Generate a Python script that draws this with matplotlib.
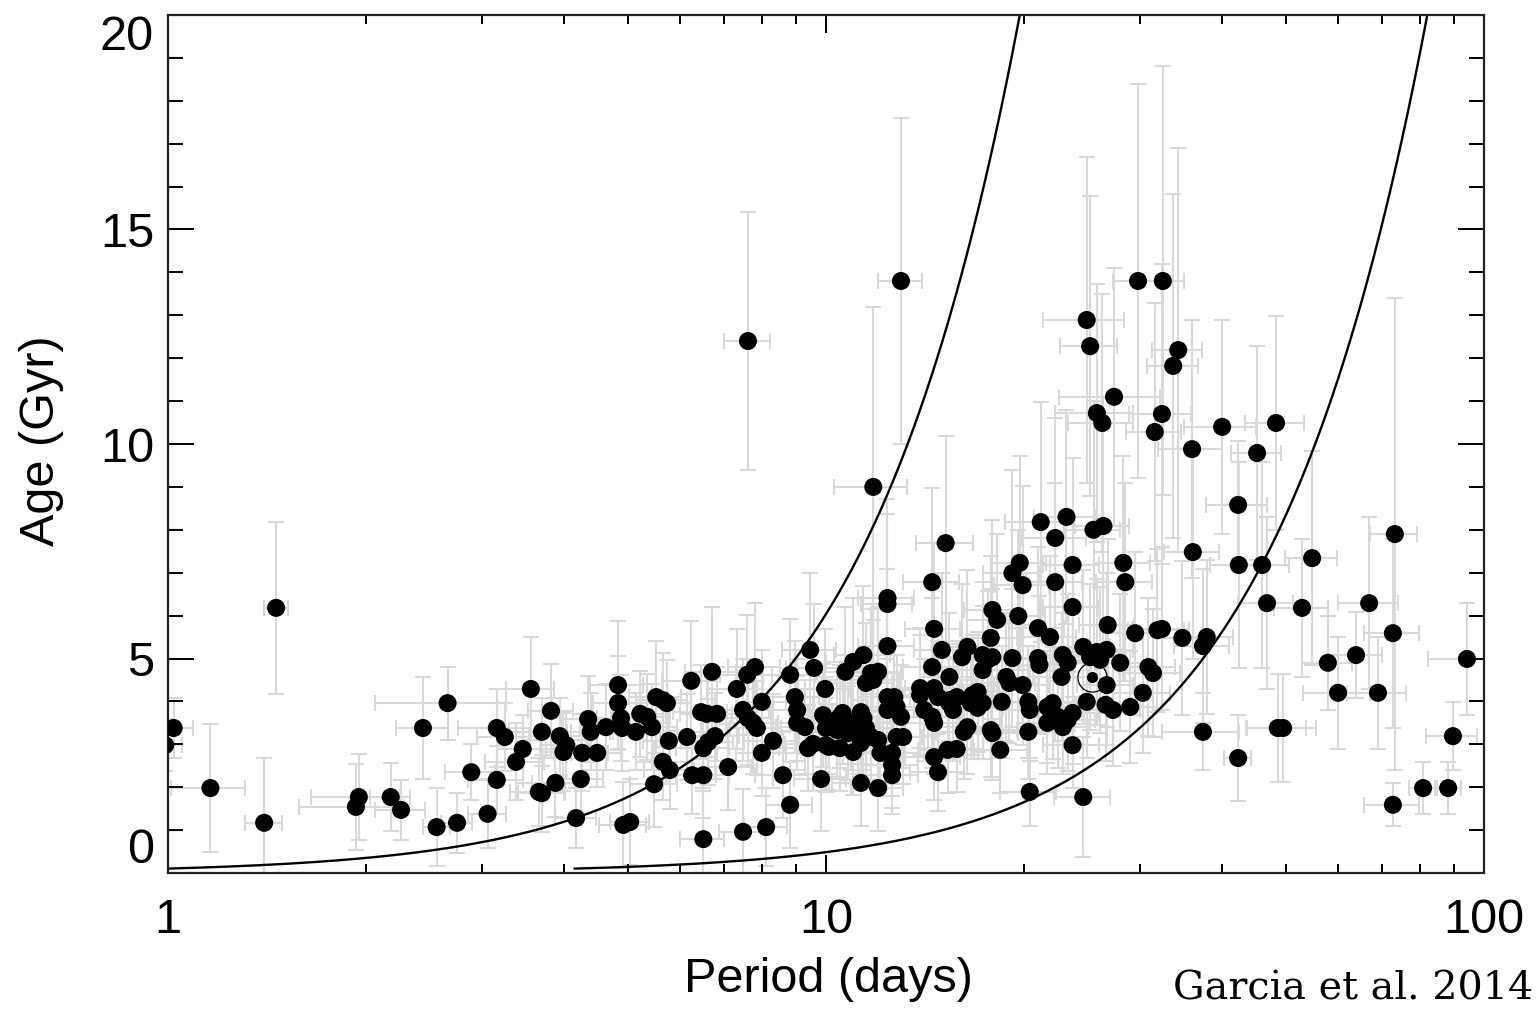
import numpy as np
import matplotlib
matplotlib.use("Agg")
import matplotlib.pyplot as plt
from matplotlib.ticker import FixedLocator, FixedFormatter, LogLocator, NullFormatter, MultipleLocator

plt.rcParams['font.family'] = ['Liberation Sans', 'DejaVu Sans']

# ---- data (rotation period in days, age in Gyr, symmetric errors) ----
period = [1.02, 0.99, 1.16, 1.46, 1.40, 1.93, 1.95, 2.18, 2.26, 2.44,
          2.66, 2.56, 2.75, 2.89, 3.06, 3.16, 3.16, 3.25, 3.38, 3.46,
          3.56, 3.66, 3.70, 3.70, 3.82, 3.88, 3.94, 4.03, 3.99, 4.17,
          4.26, 4.24, 4.35, 4.39, 4.49, 4.63, 4.83, 4.83, 4.88, 4.90,
          4.92, 5.04, 5.14, 5.22, 5.35, 5.44, 5.52, 5.65, 5.73, 5.48,
          5.65, 5.79, 5.77, 6.15, 6.24, 6.26, 6.51, 6.46, 6.59, 6.83,
          6.51, 6.51, 6.62, 6.78, 6.71, 7.10, 7.32, 7.48, 7.48, 7.61,
          7.75, 7.85, 7.59, 7.80, 7.99, 7.99, 8.11, 8.31, 8.60, 8.82,
          8.82, 8.97, 9.04, 9.04, 9.29, 9.46, 9.59, 9.39, 9.56, 9.83,
          9.97, 9.90, 10.0, 10.0, 14.5, 15.2, 12.4, 12.4, 12.4, 14.6,
          11.4, 11.0, 10.7, 11.7, 12.0, 11.5, 11.8, 12.4, 12.7, 12.8,
          13.0, 12.4, 10.5, 10.6, 10.9, 11.3, 11.4, 10.1, 10.4, 10.8,
          11.2, 11.5, 11.7, 12.0, 10.1, 10.5, 11.0, 11.3, 12.1, 12.6,
          12.6, 12.6, 12.8, 13.1, 11.3, 12.0, 15.0, 14.5, 15.4, 16.1,
          16.4, 13.9, 13.9, 14.6, 14.8, 15.4, 15.8, 14.1, 14.5, 14.6,
          15.4, 15.6, 14.6, 14.8, 15.3, 15.8, 16.2, 16.4, 16.6, 17.0,
          17.3, 16.7, 17.0, 17.8, 17.9, 17.3, 17.6, 17.9, 17.3, 17.8,
          17.9, 18.2, 18.4, 18.5, 18.8, 19.0, 19.2, 19.6, 19.9, 19.2,
          19.7, 19.9, 20.3, 20.4, 20.3, 20.4, 21.0, 21.9, 21.0, 21.1,
          21.7, 22.1, 21.7, 22.5, 22.9, 23.3, 23.7, 22.3, 22.9, 22.8,
          23.3, 23.7, 23.7, 24.6, 25.2, 25.8, 26.7, 26.1, 26.7, 24.9,
          26.6, 27.3, 29.0, 23.7, 24.6, 26.8, 28.0, 29.5, 28.3, 28.5,
          30.3, 30.9, 31.4, 31.9, 42.4, 46.0, 54.8, 32.4, 34.8, 37.9,
          37.4, 46.8, 52.9, 66.9, 72.7, 57.9, 63.9, 60.0, 69.0, 94.2,
          37.4, 42.3, 48.6, 49.5, 89.7, 72.7, 80.8, 88.2, 13.0, 7.61,
          29.8, 32.5, 24.9, 25.2, 34.3, 33.7, 27.4, 25.8, 26.3, 32.4,
          31.6, 40.0, 48.3, 36.0, 45.2, 11.8, 42.3, 21.2, 23.2, 22.3,
          25.5, 26.4, 73.2, 36.1]

age = [3.38, 2.98, 1.98, 6.18, 1.17, 1.54, 1.77, 1.77, 1.47, 3.38,
       3.96, 1.07, 1.17, 2.35, 1.38, 3.38, 2.17, 3.17, 2.59, 2.89,
       4.29, 1.89, 1.86, 3.29, 3.78, 2.10, 3.19, 2.98, 2.82, 1.28,
       2.80, 2.19, 3.59, 3.29, 2.80, 3.40, 4.38, 3.96, 3.61, 3.38,
       1.12, 1.19, 3.29, 3.71, 3.64, 3.40, 4.10, 4.03, 3.96, 2.07,
       2.59, 2.40, 3.08, 3.17, 4.48, 2.28, 2.28, 3.75, 3.71, 3.71,
       0.79, 2.91, 3.05, 3.19, 4.69, 2.47, 4.29, 0.96, 3.80, 3.61,
       3.50, 3.38, 4.62, 4.80, 3.99, 2.80, 1.07, 3.08, 2.28, 4.62,
       1.59, 4.10, 3.80, 3.50, 3.40, 5.20, 4.78, 2.91, 3.01, 2.19,
       4.29, 3.68, 3.38, 2.98, 6.78, 7.69, 6.41, 6.27, 5.29, 5.69,
       5.08, 4.92, 4.69, 4.66, 4.69, 4.43, 4.50, 4.10, 4.10, 3.87,
       3.64, 3.80, 3.64, 3.73, 3.50, 3.75, 3.61, 3.40, 3.33, 3.26,
       3.40, 3.38, 3.17, 3.10, 2.94, 2.91, 2.82, 3.03, 2.80, 2.80,
       2.52, 2.28, 3.17, 3.17, 2.10, 1.98, 5.20, 4.80, 4.57, 5.03,
       5.27, 4.31, 4.15, 4.31, 4.10, 4.03, 4.10, 3.80, 3.64, 3.50,
       3.96, 3.80, 2.70, 2.35, 2.87, 2.89, 3.29, 3.40, 3.96, 3.85,
       3.96, 4.15, 4.22, 3.33, 3.26, 4.73, 4.97, 5.03, 5.08, 5.48,
       6.13, 5.90, 2.87, 3.99, 4.57, 4.43, 5.01, 5.99, 4.38, 6.99,
       7.23, 6.71, 3.99, 3.80, 3.29, 1.89, 5.71, 5.50, 5.01, 4.85,
       3.87, 3.96, 3.50, 3.64, 3.40, 3.57, 3.73, 6.78, 5.08, 4.57,
       4.90, 7.18, 6.20, 5.27, 5.03, 5.15, 5.20, 4.97, 4.38, 3.99,
       3.92, 3.80, 3.87, 2.98, 1.77, 5.78, 4.90, 5.59, 7.23, 6.78,
       4.20, 4.80, 4.66, 5.66, 7.18, 7.18, 7.34, 5.69, 5.48, 5.50,
       5.29, 6.29, 6.18, 6.29, 5.59, 4.90, 5.08, 4.20, 4.20, 4.99,
       3.29, 2.68, 3.38, 3.38, 3.19, 1.59, 1.98, 1.98, 13.80, 12.40,
       13.80, 13.80, 12.89, 12.28, 12.19, 11.82, 11.10, 10.72, 10.49, 10.70,
       10.28, 10.40, 10.49, 9.88, 9.79, 9.00, 8.58, 8.18, 8.30, 7.81,
       8.00, 8.09, 7.90, 7.48]

period_err = [0.07, 0.06, 0.15, 0.06, 0.09, 0.35, 0.30, 0.15, 0.20, 0.22,
              0.60, 0.12, 0.15, 0.25, 0.20, 0.40, 0.30, 0.30, 0.35, 0.30,
              0.30, 0.35, 0.30, 0.40, 0.30, 0.30, 0.40, 0.35, 0.30, 0.30,
              0.40, 0.35, 0.40, 0.35, 0.40, 0.40, 0.45, 0.40, 0.40, 0.45,
              0.40, 0.35, 0.45, 0.50, 0.45, 0.50, 0.50, 0.50, 0.50, 0.45,
              0.50, 0.50, 0.50, 0.55, 0.60, 0.55, 0.60, 0.60, 0.60, 0.60,
              0.50, 0.60, 0.60, 0.60, 0.60, 0.60, 0.70, 0.60, 0.70, 0.70,
              0.70, 0.70, 0.70, 0.70, 0.70, 0.70, 0.60, 0.80, 0.80, 0.80,
              0.70, 0.80, 0.80, 0.80, 0.90, 0.90, 0.90, 0.90, 0.90, 0.90,
              0.90, 0.90, 1.00, 1.00, 1.40, 1.50, 1.20, 1.10, 1.20, 1.40,
              1.10, 1.00, 1.00, 1.10, 1.10, 1.10, 1.10, 1.20, 1.20, 1.20,
              1.20, 1.20, 1.00, 1.00, 1.00, 1.10, 1.10, 1.00, 1.00, 1.00,
              1.00, 1.10, 1.10, 1.10, 1.00, 1.00, 1.00, 1.10, 1.10, 1.20,
              1.20, 1.20, 1.20, 1.20, 1.10, 1.10, 1.40, 1.40, 1.50, 1.50,
              1.60, 1.30, 1.30, 1.40, 1.40, 1.50, 1.50, 1.30, 1.40, 1.40,
              1.50, 1.50, 1.40, 1.40, 1.50, 1.50, 1.50, 1.60, 1.60, 1.60,
              1.70, 1.60, 1.60, 1.70, 1.70, 1.70, 1.70, 1.70, 1.70, 1.70,
              1.70, 1.80, 1.80, 1.80, 1.80, 1.80, 1.90, 1.90, 1.90, 1.90,
              1.90, 1.90, 2.00, 2.00, 2.00, 2.00, 2.00, 2.10, 2.00, 2.00,
              2.10, 2.10, 2.10, 2.20, 2.20, 2.30, 2.30, 2.20, 2.20, 2.20,
              2.30, 2.30, 2.30, 2.40, 2.50, 2.50, 2.60, 2.50, 2.60, 2.40,
              2.60, 2.70, 2.80, 2.30, 2.40, 2.60, 2.70, 2.90, 2.80, 2.80,
              3.00, 3.00, 3.10, 3.10, 4.00, 4.50, 5.00, 3.20, 3.40, 3.70,
              3.60, 4.50, 5.00, 7.00, 7.00, 5.00, 6.00, 7.00, 7.00, 12.0,
              5.00, 2.00, 5.00, 6.00, 8.00, 7.00, 4.00, 4.00, 1.00, 0.60,
              2.50, 2.50, 3.50, 2.50, 3.00, 3.00, 4.80, 3.50, 3.00, 3.50,
              3.00, 5.00, 5.00, 4.00, 4.00, 1.50, 4.50, 2.50, 2.50, 2.50,
              2.50, 2.50, 6.00, 3.50]

age_err = [0.7, 0.6, 1.5, 2.0, 1.5, 1.0, 1.0, 0.8, 0.7, 1.2,
           0.85, 0.9, 0.7, 0.65, 0.8, 0.9, 0.8, 0.8, 0.9, 0.8,
           1.2, 0.8, 0.9, 0.8, 1.1, 0.8, 0.9, 0.8, 0.9, 0.7,
           0.9, 0.9, 1.0, 0.9, 0.8, 1.0, 1.5, 1.1, 1.0, 1.0,
           1.0, 1.0, 0.9, 1.0, 1.0, 1.0, 1.3, 1.1, 1.0, 1.0,
           0.9, 0.9, 1.0, 1.0, 1.4, 0.9, 1.0, 1.1, 1.0, 1.1,
           1.2, 1.0, 1.0, 1.0, 1.5, 1.0, 1.4, 1.0, 1.2, 1.1,
           1.2, 1.1, 1.4, 1.5, 1.2, 1.0, 0.9, 1.1, 1.0, 1.3,
           1.0, 1.3, 1.2, 1.1, 1.1, 1.8, 1.5, 1.0, 1.1, 1.2,
           1.4, 1.2, 1.2, 1.1, 2.2, 2.5, 2.3, 2.1, 1.8, 2.0,
           1.6, 1.5, 1.5, 1.5, 1.5, 1.4, 1.4, 1.3, 1.3, 1.2,
           1.2, 1.2, 1.2, 1.2, 1.1, 1.2, 1.2, 1.1, 1.1, 1.1,
           1.1, 1.1, 1.0, 1.0, 1.0, 1.0, 1.0, 1.0, 1.0, 1.0,
           1.0, 0.9, 1.1, 1.1, 1.0, 1.0, 1.8, 1.6, 1.5, 1.7,
           1.8, 1.4, 1.4, 1.4, 1.3, 1.3, 1.3, 1.2, 1.2, 1.2,
           1.3, 1.2, 1.0, 0.9, 1.0, 1.0, 1.1, 1.1, 1.3, 1.2,
           1.3, 1.4, 1.4, 1.1, 1.1, 1.5, 1.6, 1.6, 1.7, 1.9,
           2.1, 2.0, 1.0, 1.3, 1.5, 1.4, 1.6, 2.0, 1.4, 2.4,
           2.5, 2.3, 1.3, 1.2, 1.1, 0.8, 1.9, 1.9, 1.7, 1.6,
           1.3, 1.3, 1.2, 1.2, 1.1, 1.2, 1.2, 2.3, 1.7, 1.5,
           1.6, 2.5, 2.1, 1.8, 1.7, 1.7, 1.8, 1.7, 1.4, 1.3,
           1.3, 1.3, 1.3, 1.0, 1.4, 2.0, 1.6, 1.9, 2.5, 2.3,
           1.4, 1.6, 1.5, 1.9, 2.4, 2.4, 2.5, 1.9, 1.8, 1.8,
           1.8, 2.0, 1.6, 2.0, 2.2, 1.1, 1.0, 1.3, 1.3, 1.3,
           0.9, 1.0, 1.25, 1.25, 0.8, 0.5, 0.6, 0.6, 3.8, 3.0,
           4.6, 5.0, 3.8, 3.5, 4.7, 4.0, 3.0, 3.0, 3.0, 3.5,
           3.0, 2.5, 2.5, 3.0, 2.5, 4.2, 1.5, 2.8, 2.5, 2.8,
           3.0, 3.0, 5.5, 2.5]

# the Sun
sun_period = 25.4
sun_age = 4.57

# gyrochronology curves: age = 20 Gyr * (P / P20)^(1/n)
gyro_n = 0.566
curve_p_start = [1.0, 4.15]
curve_p_at_20gyr = [19.7, 82.0]

x_major = [1, 10, 100]
x_major_labels = ['1', '10', '100']
y_major = [0, 5, 10, 15, 20]

# ---- figure ----
fig = plt.figure(figsize=(15.38, 10.10), dpi=100)
ax = fig.add_axes([168 / 1538, 1 - 873 / 1010, (1484 - 168) / 1538, (873 - 15) / 1010])

ax.errorbar(period, age, xerr=period_err, yerr=age_err, fmt='none',
            ecolor='#d9d9d9', elinewidth=1.5, capsize=5.5, capthick=1.5, zorder=1)

for p0, p20 in zip(curve_p_start, curve_p_at_20gyr):
    pp = np.geomspace(p0, p20, 300)
    ax.plot(pp, 20.0 * (pp / p20) ** (1.0 / gyro_n), color='black', lw=1.7, zorder=2)

ax.scatter(period, age, s=13 ** 2, color='black', edgecolors='none', zorder=3)

ax.plot([sun_period], [sun_age], 'o', ms=21, mfc='none', mec='black', mew=0.9, zorder=4)
ax.plot([sun_period], [sun_age], 'o', ms=7, color='black', zorder=4)

ax.set_xscale('log')
ax.set_xlim(1, 100)
ax.set_ylim(0, 20)

ax.xaxis.set_major_locator(FixedLocator(x_major))
ax.xaxis.set_major_formatter(FixedFormatter(x_major_labels))
ax.xaxis.set_minor_locator(LogLocator(base=10, subs=range(2, 10), numticks=20))
ax.xaxis.set_minor_formatter(NullFormatter())
ax.yaxis.set_major_locator(FixedLocator(y_major))
ax.yaxis.set_minor_locator(MultipleLocator(1))

ax.tick_params(axis='x', which='major', direction='in', length=13, width=1.4,
               top=True, bottom=True, pad=18, labelsize=35, colors='black')
ax.tick_params(axis='x', which='minor', direction='in', length=6.5, width=1.4,
               top=True, bottom=True)
ax.tick_params(axis='y', which='major', direction='in', length=19, width=1.4,
               left=True, right=True, pad=10, labelsize=35)
ax.tick_params(axis='y', which='minor', direction='in', length=11, width=1.4,
               left=True, right=True)

for sp in ax.spines.values():
    sp.set_linewidth(1.6)
    sp.set_color('#222222')

ylabels = ax.get_yticklabels()
ylabels[0].set_verticalalignment('bottom')
ylabels[-1].set_verticalalignment('top')

fig.text(828 / 1538, 1 - 980 / 1010, 'Period (days)', fontsize=35, ha='center', va='center')
fig.text(42 / 1538, 1 - 441 / 1010, 'Age (Gyr)', fontsize=35, rotation=90, ha='center', va='center')
fig.text(1173 / 1538, 1 - 1007 / 1010, 'Garcia et al. 2014', fontsize=28.5,
         family=['DejaVu Serif'], ha='left', va='bottom')

fig.savefig('out.png', dpi=100, facecolor='white')
